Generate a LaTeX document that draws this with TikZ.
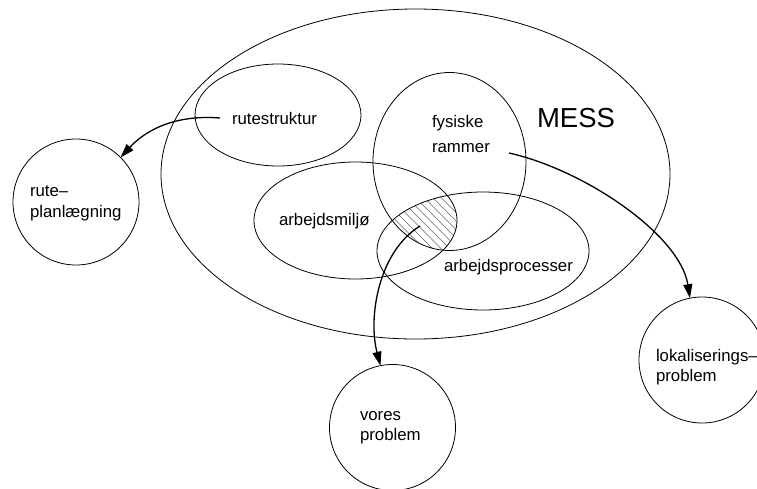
\documentclass[tikz,border=0pt]{standalone}
\usepackage{fontspec}
\setmainfont{Liberation Sans}
\usetikzlibrary{shapes.geometric,arrows.meta}
\begin{document}
\begin{tikzpicture}[x=1pt,y=-1pt,
  setshape/.style={draw, ellipse, inner sep=0pt, outer sep=0pt, line width=0.8pt},
  topic/.style={draw, circle, inner sep=0pt, outer sep=0pt, minimum size=126pt, line width=0.8pt},
  txt/.style={anchor=base west, inner sep=0pt, outer sep=0pt, font=\fontsize{16.8}{20}\selectfont},
  link/.style={line width=1.3pt, -{Triangle[length=14pt,width=9pt]}},
  hatchline/.style={black!60, line width=0.6pt}]
\useasboundingbox (0,0) rectangle (757,488);
\fill[white] (0,0) rectangle (757,488);
\clip (0,0) rectangle (757,488);

% hatched overlap of the three inner sets
\begin{scope}
  \clip (355.5,220.5) ellipse [x radius=101.5pt, y radius=58.5pt];
  \clip (449.5,161.5) ellipse [x radius=76.5pt, y radius=89pt];
  \clip (483,251) ellipse [x radius=106pt, y radius=59pt];
  \foreach \x in {300,308.5,...,480}
    \draw[hatchline] (\x,150) -- ++(130,130);
\end{scope}

% sets
\node[setshape, minimum width=509pt, minimum height=330pt] (mess) at (415.5,174) {};
\node[setshape, minimum width=166pt, minimum height=102pt] (rutestr) at (278,115) {};
\node[setshape, minimum width=153pt, minimum height=178pt] (fysisk) at (449.5,161.5) {};
\node[setshape, minimum width=203pt, minimum height=117pt] (miljo) at (355.5,220.5) {};
\node[setshape, minimum width=212pt, minimum height=118pt] (proc) at (483,251) {};

% problem circles
\node[topic] (rp) at (76,202) {};
\node[topic] (lok) at (702,360) {};
\node[topic] (vp) at (392.5,427.5) {};

% labels
\node[txt] (rs) at (232,124) {rutestruktur};
\node[txt, font=\fontsize{16.8}{25}\selectfont] (fr) at (432,127.7)
  {\begin{tabular}[t]{@{}l@{}}fysiske\\rammer\end{tabular}};
\node[txt, font=\fontsize{27.5}{33}\selectfont] (messlabel) at (537,127.7) {MESS};
\node[txt] (am) at (279,225) {arbejdsmiljø};
\node[txt] (ap) at (444,271.7) {arbejdsprocesser};
\node[txt, font=\fontsize{16.8}{20.5}\selectfont] (rptext) at (30,196.7)
  {\begin{tabular}[t]{@{}l@{}}rute–\\planlægning\end{tabular}};
\node[txt] (loktext) at (656,361.5)
  {\begin{tabular}[t]{@{}l@{}}lokaliserings–\\problem\end{tabular}};
\node[txt] (vptext) at (360,420.7)
  {\begin{tabular}[t]{@{}l@{}}vores\\problem\end{tabular}};

% arrow start points
\coordinate (rsOut) at (220,118);
\coordinate (frOut) at (509,153);
\coordinate (core) at (420,226);

% arrows
\draw[link] (rsOut) .. controls (170,114) and (142,134) .. (rp.45);
\draw[link] (frOut) .. controls (585,170) and (680,235) .. (lok.101);
\draw[link] (core) .. controls (378,252) and (368,318) .. (vp.101);
\end{tikzpicture}
\end{document}
